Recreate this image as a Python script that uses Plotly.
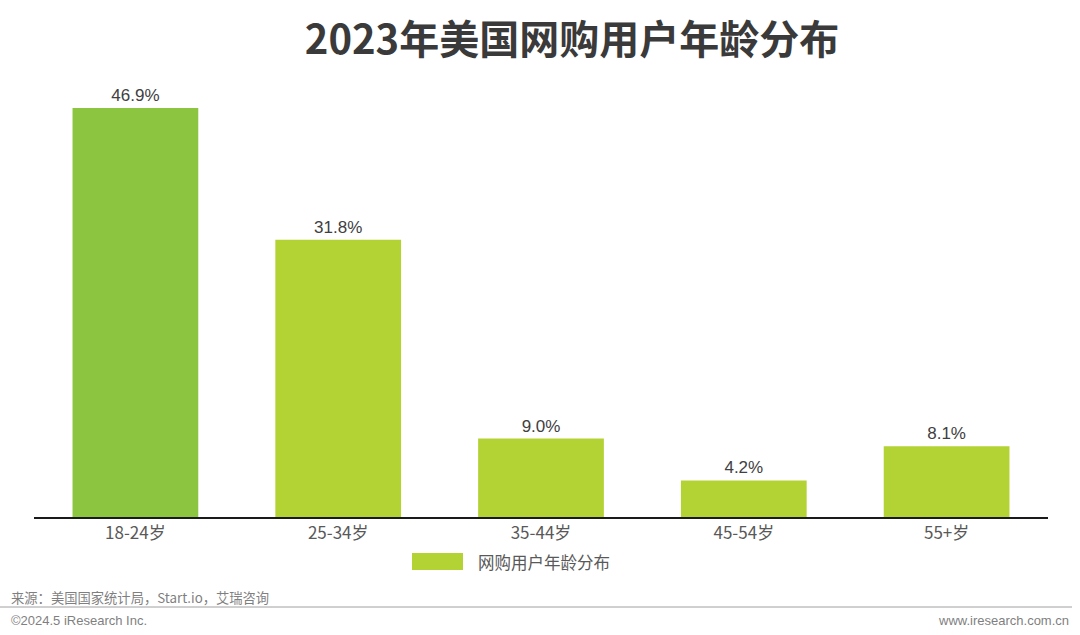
import plotly.graph_objects as go

categories = ["18-24岁", "25-34岁", "35-44岁", "45-54岁", "55+岁"]
values = [46.9, 31.8, 9.0, 4.2, 8.1]
labels = ["46.9%", "31.8%", "9.0%", "4.2%", "8.1%"]
series_name = "网购用户年龄分布"
bar_colors = ["#8CC540", "#B3D334", "#B3D334", "#B3D334", "#B3D334"]

W, H = 1080, 635
L, R, T, B = 34, 1048, 81, 517
PW, PH = R - L, B - T

def px(x):
    return (x - L) / PW

def py(y):
    return (B - y) / PH

fig = go.Figure()
fig.add_trace(go.Bar(
    x=categories, y=values, text=labels, textposition="outside",
    marker=dict(color=bar_colors, line=dict(width=0)),
    textfont=dict(family="Liberation Sans, Arial, sans-serif", size=17, color="#404040"),
    cliponaxis=False, showlegend=False, name=series_name,
))

fig.update_layout(
    width=W, height=H,
    paper_bgcolor="white", plot_bgcolor="white",
    margin=dict(l=L, r=W - R, t=T, b=H - B),
    bargap=0.38,
    title=dict(text="<b>2023年美国网购用户年龄分布</b>", x=572 / W, xanchor="center", y=1 - 40 / H, yanchor="middle",
               font=dict(family="Noto Sans CJK SC, sans-serif", size=40, color="#3A3A3A")),
    xaxis=dict(showline=True, linecolor="#1A1A1A", linewidth=1.5, ticks="",
               tickfont=dict(family="Noto Sans CJK SC, sans-serif", size=17, color="#595959"),
               showgrid=False),
    yaxis=dict(range=[0, 50], visible=False, showgrid=False),
    shapes=[
        dict(type="rect", xref="paper", yref="paper",
             x0=px(412), x1=px(463), y0=py(553), y1=py(570),
             fillcolor="#B3D334", line=dict(width=0)),
        dict(type="line", xref="paper", yref="paper",
             x0=px(0), x1=px(1072), y0=py(607), y1=py(607),
             line=dict(color="#A0A0A0", width=1)),
    ],
    annotations=[
        dict(text=series_name, xref="paper", yref="paper",
             x=px(476), y=py(562), xanchor="left", yanchor="middle", showarrow=False,
             font=dict(family="Noto Sans CJK SC, sans-serif", size=16.5, color="#595959")),
        dict(text="来源：美国国家统计局，Start.io，艾瑞咨询", xref="paper", yref="paper",
             x=px(9), y=py(597), xanchor="left", yanchor="middle", showarrow=False,
             font=dict(family="Noto Sans CJK SC, sans-serif", size=13.3, color="#7F7F7F")),
        dict(text="©2024.5 iResearch Inc.", xref="paper", yref="paper",
             x=px(9), y=py(620), xanchor="left", yanchor="middle", showarrow=False,
             font=dict(family="Liberation Sans, Arial, sans-serif", size=13, color="#7F7F7F")),
        dict(text="www.iresearch.com.cn", xref="paper", yref="paper",
             x=px(1071), y=py(620), xanchor="right", yanchor="middle", showarrow=False,
             font=dict(family="Liberation Sans, Arial, sans-serif", size=13, color="#7F7F7F")),
    ],
)

fig.write_html("out.html", config={"displayModeBar": False},
               post_script="document.body.style.margin='0';document.body.style.padding='0';")
